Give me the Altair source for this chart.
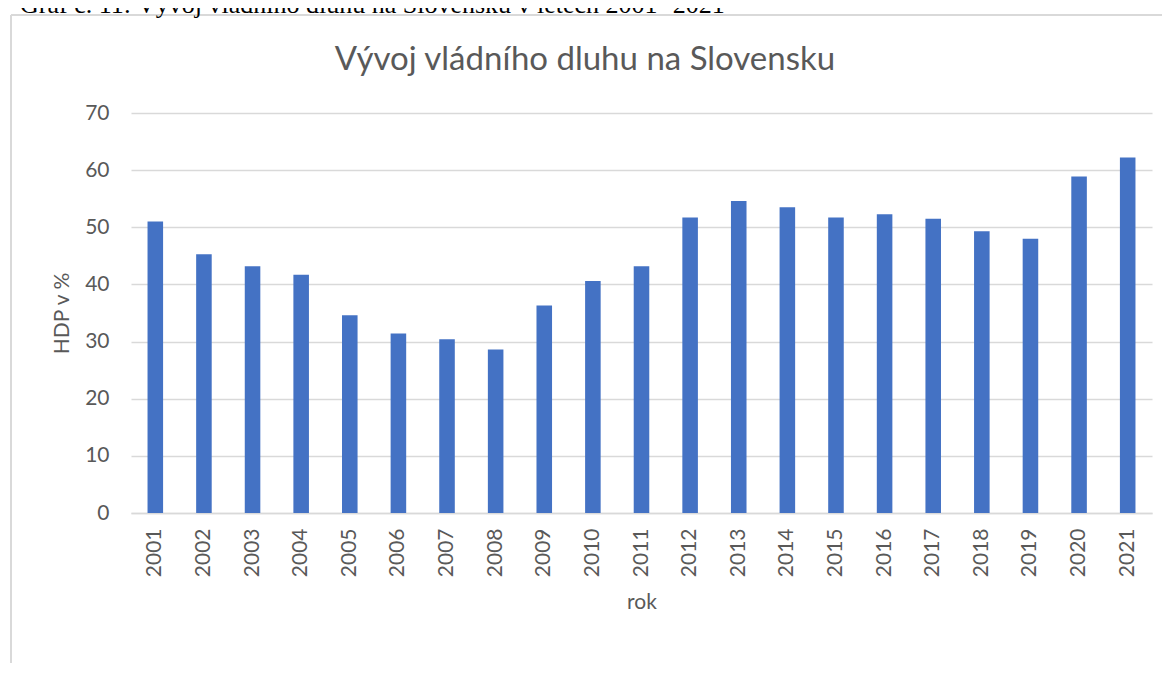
import altair as alt
import pandas as pd

years = [str(y) for y in range(2001, 2022)]
debt = [51.0, 45.3, 43.2, 41.7, 34.6, 31.4, 30.4, 28.6, 36.3, 40.6, 43.2,
        51.7, 54.6, 53.5, 51.7, 52.3, 51.5, 49.3, 48.0, 58.9, 62.2]
y_ticks = [0, 10, 20, 30, 40, 50, 60, 70]

chart_title = "Vývoj vládního dluhu na Slovensku"
caption = "Graf č. 11: Vývoj vládního dluhu na Slovensku v letech 2001- 2021"
x_title = "rok"
y_title = "HDP v %"

df = pd.DataFrame({"rok": years, "hdp": debt})
one = pd.DataFrame({"a": [0]})

GRAY = "#595959"
FONT = "Lato"

bars = alt.Chart(df).mark_bar(color="#4472C4").encode(
    x=alt.X("rok:N", sort=years,
            scale=alt.Scale(paddingInner=0.68, paddingOuter=0.34),
            axis=alt.Axis(title=x_title, labelAngle=-90, labelPadding=15,
                          titlePadding=15, ticks=False, domain=True,
                          domainColor="#d9d9d9", domainWidth=1.3)),
    y=alt.Y("hdp:Q", scale=alt.Scale(domain=[0, 70], nice=False),
            axis=alt.Axis(title=y_title, values=y_ticks, ticks=False, domain=False,
                          labelPadding=22, titlePadding=12,
                          grid=True, gridColor="#d9d9d9", gridWidth=1.3)),
)

title_mark = alt.Chart(one).mark_text(
    text=chart_title, font=FONT, fontSize=33, color=GRAY,
    align="center", baseline="alphabetic"
).encode(x=alt.value(454), y=alt.value(-43))

caption_mark = alt.Chart(one).mark_text(
    text=caption, font="Liberation Serif", fontSize=26, color="#000000",
    align="left", baseline="alphabetic"
).encode(x=alt.value(-111), y=alt.value(-100))

frame_left = alt.Chart(one).mark_rule(color="#d9d9d9", strokeWidth=2).encode(
    x=alt.value(-120), y=alt.value(-98), y2=alt.value(560))
frame_top = alt.Chart(one).mark_rule(color="#d9d9d9", strokeWidth=2).encode(
    x=alt.value(-120), x2=alt.value(1040), y=alt.value(-98))

chart = alt.layer(frame_left, frame_top, caption_mark, title_mark, bars).properties(
    width=1021, height=400,
    autosize=alt.AutoSizeParams(type="none"),
    padding={"left": 123, "top": 105, "right": 10, "bottom": 150},
).configure_view(stroke=None).configure_axis(
    labelFont=FONT, titleFont=FONT, labelFontSize=21, titleFontSize=21,
    labelColor=GRAY, titleColor=GRAY, titleFontWeight="normal",
)

chart.save("out.html", embed_options={"renderer": "svg", "actions": False})
